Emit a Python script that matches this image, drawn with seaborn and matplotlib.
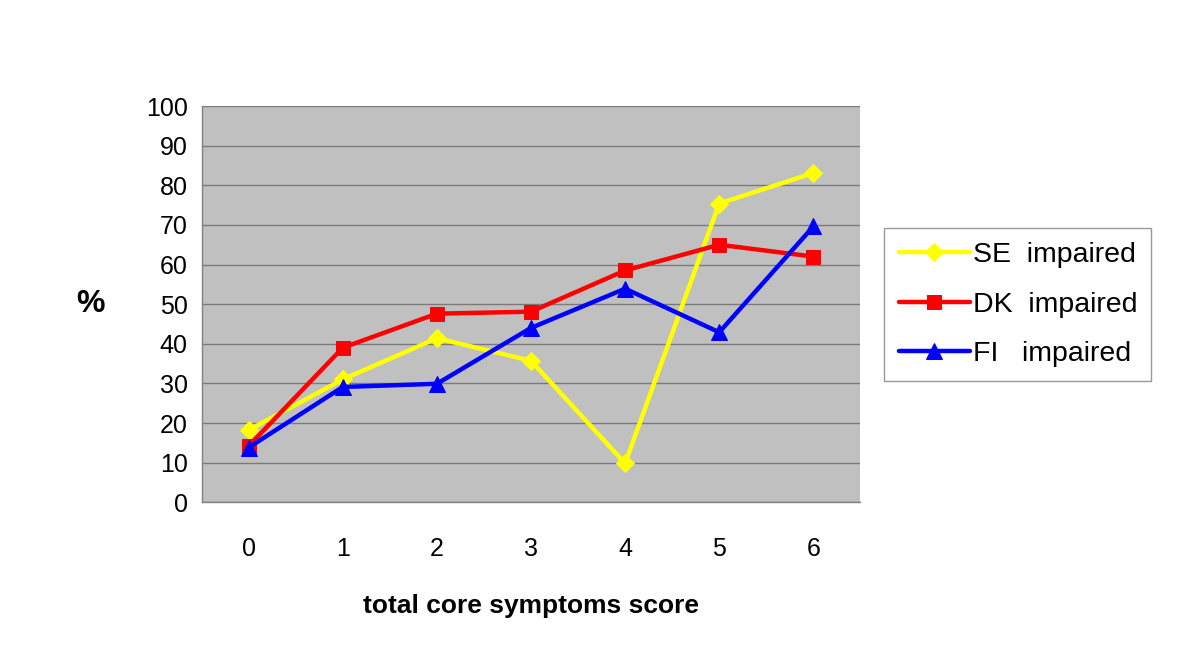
import numpy as np
import pandas as pd
import seaborn as sns
import matplotlib.pyplot as plt

# values
scores = [0, 1, 2, 3, 4, 5, 6]
se_impaired = [18.2, 31.0, 41.4, 35.7, 9.8, 75.4, 83.1]
dk_impaired = [14.2, 39.0, 47.6, 48.1, 58.5, 65.0, 62.0]
fi_impaired = [13.8, 29.1, 29.9, 44.0, 53.9, 42.9, 69.6]
series_names = ["SE  impaired", "DK  impaired", "FI   impaired"]

df = pd.DataFrame({
    "score": scores * 3,
    "pct": se_impaired + dk_impaired + fi_impaired,
    "series": [series_names[0]] * 7 + [series_names[1]] * 7 + [series_names[2]] * 7,
})

sns.set_style("white")
plt.rcParams['font.family'] = ['Liberation Sans', 'DejaVu Sans']
plt.rcParams['text.color'] = 'black'
plt.rcParams['axes.labelcolor'] = 'black'

fig = plt.figure(figsize=(12, 6.67), dpi=100)
ax = fig.add_axes([0.168, 0.247, 0.549, 0.594])
ax.set_facecolor("#c0c0c0")

palette = {series_names[0]: "#ffff00", series_names[1]: "#ff0000", series_names[2]: "#0000ff"}
markers = {series_names[0]: "D", series_names[1]: "s", series_names[2]: "^"}
sizes_m = {series_names[0]: 9, series_names[1]: 10, series_names[2]: 12}

# draw each series so marker size can differ
for name in series_names:
    sub = df[df["series"] == name]
    sns.lineplot(data=sub, x="score", y="pct", ax=ax, color=palette[name],
                 marker=markers[name], markersize=sizes_m[name],
                 markeredgecolor=palette[name], linewidth=3.2, label=name)

# axes limits and ticks (Excel-like category axis)
ax.set_xlim(-0.5, 6.5)
ax.set_ylim(0, 100)
ax.set_yticks(np.arange(0, 101, 10))
ax.set_xticks(np.arange(-0.5, 7, 1))
ax.set_xticklabels([])
ax.set_xticks(scores, minor=True)
ax.set_xticklabels([str(s) for s in scores], minor=True)
ax.tick_params(axis='x', which='major', direction='out', length=6, color='#808080', width=1)
ax.tick_params(axis='x', which='minor', length=0, pad=25, labelsize=18, labelcolor='black')
ax.tick_params(axis='y', direction='out', length=6, color='#808080', width=1,
               labelsize=18, pad=4, labelcolor='black')

ax.yaxis.grid(True, color='#7a7a7a', linewidth=1)
ax.set_axisbelow(True)
for side in ['top', 'right']:
    ax.spines[side].set_visible(False)
for side in ['left', 'bottom']:
    ax.spines[side].set_color('#808080')
    ax.spines[side].set_linewidth(1)

ax.set_xlabel("total core symptoms score", fontsize=19, fontweight='bold', labelpad=24)
ax.set_ylabel("%", fontsize=23, fontweight='bold', rotation=0, labelpad=40, va='center')

leg = ax.legend(loc='upper left', bbox_to_anchor=(0.737, 0.658), bbox_transform=fig.transFigure,
                borderaxespad=0, frameon=True, fancybox=False, fontsize=20.5,
                handlelength=2.5, handletextpad=0.1, labelspacing=0.82, borderpad=0.5)
leg.get_frame().set_edgecolor('#808080')
leg.get_frame().set_linewidth(1)

fig.savefig("out.png", dpi=100)
